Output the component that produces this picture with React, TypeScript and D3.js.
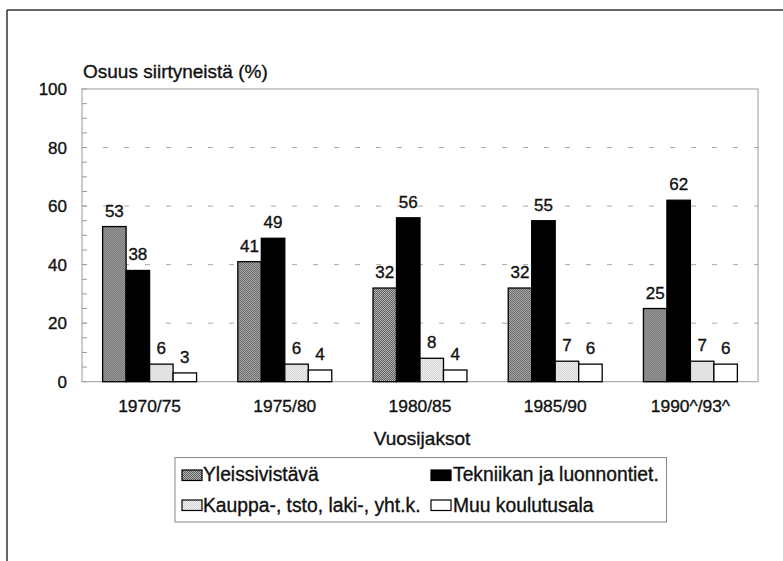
import React from "react";
import * as d3 from "d3";

const categories = ["1970/75", "1975/80", "1980/85", "1985/90", "1990^/93^"];
const seriesNames = [
  "Yleissivistävä",
  "Tekniikan ja luonnontiet.",
  "Kauppa-, tsto, laki-, yht.k.",
  "Muu koulutusala",
];
const yleissivistava = [53, 41, 32, 32, 25];
const tekniikka = [38, 49, 56, 55, 62];
const kauppa = [6, 6, 8, 7, 7];
const muu = [3, 4, 4, 6, 6];
const yTicks = [0, 20, 40, 60, 80, 100];
const yMinorTicks = d3.range(0, 101, 5);
const yTitle = "Osuus siirtyneistä (%)";
const xTitle = "Vuosijaksot";

const seriesValues = [yleissivistava, tekniikka, kauppa, muu];
const fills = ["url(#patDark)", "#000", "url(#patLight)", "#fff"];

const W = 783;
const H = 561;
const plot = { left: 82, right: 758, top: 89, bottom: 381.7 };
const FONT = "'Liberation Sans', Arial, sans-serif";
const TXT = "#111";
const txtStroke = { stroke: "#111", strokeWidth: 0.35 };

export default function App() {
  const x0 = d3
    .scaleBand<string>()
    .domain(categories)
    .range([plot.left, plot.right])
    .paddingInner(0.305)
    .paddingOuter(0.1525);
  const x1 = d3
    .scaleBand<number>()
    .domain(d3.range(seriesNames.length))
    .range([0, x0.bandwidth()]);
  const y = d3.scaleLinear().domain([0, 100]).range([plot.bottom, plot.top]);

  const legendItems = [
    { x: 182, y: 470, tx: 203, ty: 481 },
    { x: 431, y: 470, tx: 453, ty: 481 },
    { x: 182, y: 500, tx: 203, ty: 512 },
    { x: 431, y: 500, tx: 453, ty: 512 },
  ];

  return (
    <svg
      width={W}
      height={H}
      style={{ position: "absolute", left: 0, top: 0, background: "#fff" }}
      fontFamily={FONT}
    >
      <defs>
        <pattern id="patDark" width={2} height={2} patternUnits="userSpaceOnUse">
          <rect width={2} height={2} fill="#b8b8b8" />
          <rect x={0} y={0} width={1} height={1} fill="#5a5a5a" />
          <rect x={1} y={1} width={1} height={1} fill="#5a5a5a" />
        </pattern>
        <pattern id="patLight" width={2} height={2} patternUnits="userSpaceOnUse">
          <rect width={2} height={2} fill="#f4f4f4" />
          <rect x={0} y={0} width={1} height={1} fill="#cfcfcf" />
          <rect x={1} y={1} width={1} height={1} fill="#cfcfcf" />
        </pattern>
      </defs>
      <rect width={W} height={H} fill="#fff" />
      {/* outer frame */}
      <line x1={7} x2={W} y1={10} y2={10} stroke="#333" strokeWidth={1.5} />
      <line x1={7} x2={7} y1={10} y2={H} stroke="#333" strokeWidth={1.5} />

      {/* gridlines */}
      {yTicks
        .filter((t) => t > 0 && t < 100)
        .map((t) => (
          <line
            key={"g" + t}
            x1={plot.left}
            x2={plot.right}
            y1={y(t)}
            y2={y(t)}
            stroke="#aaa"
            strokeWidth={1}
            strokeDasharray="5 16"
          />
        ))}
      {/* plot border */}
      <rect
        x={plot.left}
        y={plot.top}
        width={plot.right - plot.left}
        height={plot.bottom - plot.top}
        fill="none"
        stroke="#9a9a9a"
        strokeWidth={1}
      />
      {/* minor ticks */}
      {yMinorTicks.map((t) => (
        <line
          key={"m" + t}
          x1={plot.left}
          x2={plot.left + 5}
          y1={y(t)}
          y2={y(t)}
          stroke="#9a9a9a"
          strokeWidth={1}
        />
      ))}
      {/* y tick labels */}
      {yTicks.map((t) => (
        <text
          key={"yl" + t}
          x={67}
          y={y(t) + 6.3}
          textAnchor="end"
          fontSize={17}
          fill={TXT}
          {...txtStroke}
        >
          {t}
        </text>
      ))}
      <text x={83} y={78} fontSize={19} fill={TXT} {...txtStroke}>
        {yTitle}
      </text>

      {/* bars */}
      {categories.map((c, ci) => (
        <g key={c} transform={`translate(${x0(c)},0)`}>
          {seriesValues.map((vals, si) => {
            const v = vals[ci];
            const bx = x1(si)!;
            const bw = x1.bandwidth();
            return (
              <g key={si}>
                <rect
                  x={bx}
                  y={y(v)}
                  width={bw}
                  height={y(0) - y(v)}
                  fill={fills[si]}
                  stroke="#000"
                  strokeWidth={1.3}
                />
                <text
                  x={bx + bw / 2}
                  y={y(v) - 10}
                  textAnchor="middle"
                  fontSize={17}
                  fill={TXT}
                  {...txtStroke}
                >
                  {v}
                </text>
              </g>
            );
          })}
        </g>
      ))}

      {/* x labels */}
      {categories.map((c) => (
        <text
          key={"xl" + c}
          x={x0(c)! + x0.bandwidth() / 2}
          y={411.7}
          textAnchor="middle"
          fontSize={17.4}
          fill={TXT}
          {...txtStroke}
        >
          {c}
        </text>
      ))}
      <text x={422} y={445} textAnchor="middle" fontSize={19} fill={TXT} {...txtStroke}>
        {xTitle}
      </text>

      {/* legend */}
      <rect x={175} y={457.5} width={491.5} height={64.5} fill="#fff" stroke="#888" strokeWidth={1} />
      {seriesNames.map((n, i) => {
        const it = legendItems[i];
        return (
          <g key={n}>
            <rect x={it.x} y={it.y} width={20} height={10.5} fill={fills[i]} stroke="#000" strokeWidth={1.2} />
            <text x={it.tx} y={it.ty} fontSize={19.3} fill={TXT} {...txtStroke}>
              {n}
            </text>
          </g>
        );
      })}
    </svg>
  );
}
